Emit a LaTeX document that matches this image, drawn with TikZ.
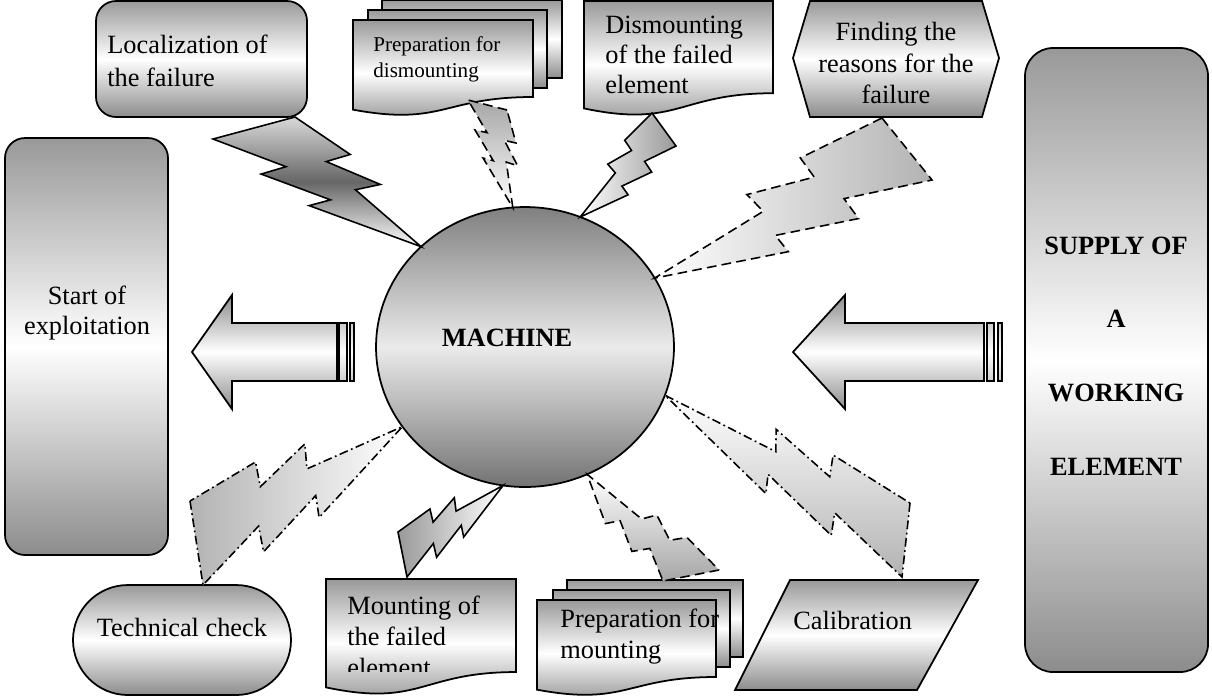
\documentclass[tikz,border=0pt]{standalone}
\usepackage{fontspec}
\setmainfont{Liberation Serif}
\usetikzlibrary{calc,shapes.geometric}

\tikzset{
  box/.style={draw, line width=1pt, top color=black!40, bottom color=black!45, middle color=white},
  arrowbox/.style={draw, line width=1pt, top color=black!45, bottom color=black!45, middle color=white},
  barbox/.style={draw, line width=0.9pt, top color=black!20, bottom color=black!20, middle color=white},
  bolt/.style={draw, line width=0.9pt},
  dashbolt/.style={bolt, dash pattern=on 5.5pt off 3pt},
  dotbolt/.style={bolt, dash pattern=on 5pt off 2pt on 1pt off 2pt},
  txt/.style={font=\fontsize{15}{17}\selectfont, inner sep=0pt, align=left, anchor=west},
  boldtxt/.style={font=\fontsize{15}{42}\selectfont\bfseries, inner sep=0pt, align=center}
}

% lightning bolt through corners (#2),(#3) and tip (#4)
\newcommand\bolt[4][]{%
  \path[#1] (#2) -- (#3)
    -- ($0.1565*(#2)+0.5545*(#3)+0.2890*(#4)$)
    -- ($0.8645*(#3)-0.1578*(#2)+0.2933*(#4)$)
    -- ($0.4350*(#3)+0.5650*(#4)$)
    -- ($0.6966*(#3)-0.2617*(#2)+0.5651*(#4)$)
    -- (#4)
    -- ($0.3562*(#2)+0.0997*(#3)+0.5441*(#4)$)
    -- ($0.6387*(#2)-0.1911*(#3)+0.5524*(#4)$)
    -- ($0.5595*(#2)+0.1167*(#3)+0.3238*(#4)$)
    -- ($0.8621*(#2)-0.1817*(#3)+0.3196*(#4)$)
    -- cycle;}

% document sheet: left x, top y, right x, height
\newcommand\docsheet[4]{%
  \draw[box] (#1,#2) -- (#3,#2) -- (#3,{#2+0.802*#4})
    .. controls ({(#1+#3)/2},{#2+0.802*#4}) and ({(#1+#3)/2},{#2+1.1075*#4}) .. (#1,{#2+0.934*#4}) -- cycle;}

\begin{document}
\begin{tikzpicture}[x=0.02cm, y=-0.02cm]
  \useasboundingbox (0,0) rectangle (1212,698);

  % side blocks
  \draw[box, rounded corners=0.4cm] (5,138) rectangle (168,555);
  \node[txt, anchor=center, align=center, font=\fontsize{15}{17.6}\selectfont] (starttext) at (87,313) {Start of\\exploitation};
  \draw[box, rounded corners=0.56cm] (1025,48) rectangle (1208,672);
  \node[boldtxt] (supplytext) at (1116,356) {SUPPLY OF\\A\\WORKING\\ELEMENT};

  % top row
  \draw[box, rounded corners=0.4cm] (96,1) rectangle (307,117);
  \node[txt, font=\fontsize{15}{18.7}\selectfont] (loctext) at (107,61) {Localization of\\the failure};

  \draw[box] (382,0) rectangle (562,78);
  \draw[box] (368,10) rectangle (547,88);
  \docsheet{353}{20}{533}{96}
  \node[txt, font=\fontsize{12}{14.7}\selectfont] (prepdtext) at (373,59) {Preparation for\\dismounting};

  \docsheet{584}{1}{773}{115}
  \node[txt] (dismtext) at (605,55) {Dismounting\\of the failed\\element};

  \draw[box] (793,58) -- (810,1) -- (982,1) -- (999,58) -- (982,117) -- (810,117) -- cycle;
  \node[txt, anchor=center, align=center, font=\fontsize{15}{18.1}\selectfont] (findtext) at (896,63) {Finding the\\reasons for the\\failure};

  % bottom row
  \draw[box, rounded corners=1.1cm] (73,585) rectangle (291,695);
  \node[txt, anchor=center] (techtext) at (182,627) {Technical check};

  \docsheet{326}{579}{516}{116}
  \begin{scope}
    \clip (326,579) rectangle (516,671);
    \node[txt, font=\fontsize{15}{17.6}\selectfont] (mounttext) at (347,636) {Mounting of\\the failed\\element};
  \end{scope}

  \draw[box] (567,580) rectangle (743,657);
  \draw[box] (553,590) rectangle (730,667);
  \docsheet{537}{600}{716}{96}
  \node[txt, font=\fontsize{15}{17.6}\selectfont] (prepmtext) at (560,637) {Preparation for\\mounting};

  \draw[box] (790,580) -- (978,580) -- (917,690) -- (735,690) -- cycle;
  \node[txt] (calibtext) at (793,620) {Calibration};

  % block arrows
  \draw[arrowbox] (192,352) -- (232,295) -- (232,323) -- (337,323) -- (337,381) -- (232,381) -- (232,409) -- cycle;
  \draw[barbox] (339,323) rectangle (347,381);
  \draw[barbox] (350,323) rectangle (354,381);
  \draw[arrowbox] (793,352) -- (845,295) -- (845,323) -- (984,323) -- (984,381) -- (845,381) -- (845,409) -- cycle;
  \draw[barbox] (987,323) rectangle (994,381);
  \draw[barbox] (998,323) rectangle (1002,381);

  % machine
  \node[draw, ellipse, line width=1pt, minimum width=5.96cm, minimum height=5.6cm, inner sep=0pt, outer sep=0pt,
        top color=black!50, bottom color=black!55, middle color=black!8] (machine) at (525,347) {};
  \node[boldtxt] (machinetext) at (507,338) {MACHINE};

  % bolts
  \coordinate (b1a) at (295,117); \coordinate (b1b) at (213,139);
  \coordinate (b2a) at (507,110); \coordinate (b2b) at (468,100);
  \coordinate (b3a) at (652,113); \coordinate (b3b) at (676,146);
  \coordinate (b4a) at (882,118); \coordinate (b4b) at (932,180);
  \coordinate (b5a) at (190,501); \coordinate (b5b) at (203,585);
  \coordinate (b6a) at (398,532); \coordinate (b6b) at (407,577);
  \coordinate (b7a) at (719,570); \coordinate (b7b) at (663,581);
  \coordinate (b8a) at (910,503); \coordinate (b8b) at (902,577);

  \bolt[bolt, top color=black!15, bottom color=white, middle color=black!60]{b1a}{b1b}{machine.136}
  \bolt[dashbolt, top color=black!35, bottom color=white]{b2a}{b2b}{machine.95}
  \bolt[bolt, left color=white, right color=black!40]{b3a}{b3b}{machine.67}
  \bolt[dashbolt, left color=white, right color=black!30]{b4a}{b4b}{machine.28}
  \bolt[dotbolt, left color=black!30, right color=white]{b5a}{b5b}{machine.213}
  \bolt[bolt, left color=black!40, right color=white]{b6a}{b6b}{machine.261}
  \bolt[dashbolt, top color=white, bottom color=black!35]{b7a}{b7b}{machine.296}
  \bolt[dotbolt, top color=white, bottom color=black!30]{b8a}{b8b}{machine.341}
\end{tikzpicture}
\end{document}
